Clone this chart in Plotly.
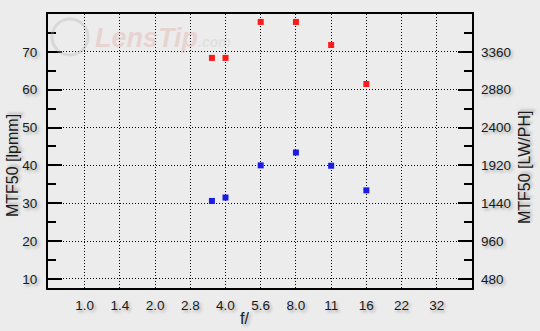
import numpy as np
import plotly.graph_objects as go

# ---- data ----
stop_labels = ["1.0", "1.4", "2.0", "2.8", "4.0", "5.6", "8.0", "11", "16", "22", "32"]
stops = [1.0, 1.4, 2.0, 2.8, 4.0, 5.6, 8.0, 11, 16, 22, 32]
apertures = [3.5, 4.0, 5.6, 8.0, 11, 16]
mtf_center = [68.4, 68.4, 77.9, 77.9, 71.8, 61.5]   # red
mtf_edge = [30.6, 31.5, 40.0, 43.4, 39.9, 33.4]     # blue
lpmm_to_lwph = 48

def stop_pos(f):
    if f in stops:
        return stops.index(f)
    return 2 * np.log2(f)

xs = [stop_pos(f) for f in apertures]
tickpos = [stop_pos(f) for f in stops]

L, R, T, B = 48, 472, 14, 288
W, H = 540, 331
FONT = "Liberation Sans, Arial, sans-serif"
SH = "2px 2px 3px #a8a8a8"
y_range = [7.6, 80.0]

fig = go.Figure()
fig.add_trace(go.Scatter(x=xs, y=mtf_center, mode="markers",
                         marker=dict(symbol="square", size=6, color="#ff1a1a", line=dict(width=0)),
                         showlegend=False))
fig.add_trace(go.Scatter(x=xs, y=mtf_edge, mode="markers",
                         marker=dict(symbol="square", size=6, color="#1c1ce6", line=dict(width=0)),
                         showlegend=False))
# invisible trace for the right axis
fig.add_trace(go.Scatter(x=[xs[0]], y=[mtf_edge[0] * lpmm_to_lwph], yaxis="y2", mode="markers",
                         marker=dict(opacity=0), showlegend=False, hoverinfo="skip"))

tickfont = dict(family=FONT, size=13.5, color="#1a1a1a", shadow=SH)

fig.update_layout(
    width=W, height=H,
    margin=dict(l=L, r=W - R, t=T, b=H - B, pad=0),
    paper_bgcolor="#ececec", plot_bgcolor="#ececec",
    xaxis=dict(range=[-1.04, 11.0], tickvals=tickpos, ticktext=stop_labels,
               showgrid=True, gridcolor="#000000", gridwidth=1, griddash="1px,2px",
               ticks="", tickfont=tickfont, ticklabelstandoff=4,
               showline=True, linecolor="#000", linewidth=2, mirror=True, zeroline=False),
    yaxis=dict(range=y_range, tickvals=[10, 20, 30, 40, 50, 60, 70],
               showgrid=True, gridcolor="#000000", gridwidth=1, griddash="1px,2px",
               ticks="inside", ticklen=14, tickcolor="#000", tickwidth=2,
               minor=dict(tickvals=[15, 25, 35, 45, 55, 65, 75], ticks="inside", ticklen=8,
                          tickcolor="#000", tickwidth=2, showgrid=False),
               tickfont=tickfont, ticklabelstandoff=6,
               showline=True, linecolor="#000", linewidth=2, mirror=True, zeroline=False),
    yaxis2=dict(range=[v * lpmm_to_lwph for v in y_range], overlaying="y", side="right",
                tickvals=[v * lpmm_to_lwph for v in [10, 20, 30, 40, 50, 60, 70]],
                showgrid=False, ticks="inside", ticklen=14, tickcolor="#000", tickwidth=2,
                minor=dict(tickvals=[v * lpmm_to_lwph for v in [15, 25, 35, 45, 55, 65, 75]],
                           ticks="inside", ticklen=8, tickcolor="#000", tickwidth=2, showgrid=False),
                tickfont=tickfont, ticklabelstandoff=8, zeroline=False, showline=False),
)

def px(x):
    return (x - L) / (R - L)

def py(y):
    return (B - y) / (B - T)

titlefont = dict(family=FONT, size=16, color="#1a1a1a", shadow=SH)
fig.add_annotation(text="MTF50 [lpmm]", x=px(12), y=py(166), xref="paper", yref="paper",
                   textangle=-90, showarrow=False, font=titlefont, xanchor="center", yanchor="middle")
fig.add_annotation(text="MTF50 [LW/PH]", x=px(525), y=py(167), xref="paper", yref="paper",
                   textangle=-90, showarrow=False, font=titlefont, xanchor="center", yanchor="middle")
fig.add_annotation(text="f/", x=px(244), y=py(318), xref="paper", yref="paper",
                   showarrow=False, font=titlefont, xanchor="center", yanchor="middle")

# faint watermark (single text)
fig.add_annotation(
    text="<i><b>LensTip</b></i><span style='font-size:14px;color:rgba(165,165,165,0.45)'><i><b>.com</b></i></span>",
    x=px(93), y=py(38), xref="paper", yref="paper",
    showarrow=False, xanchor="left", yanchor="middle",
    font=dict(family=FONT, size=27, color="rgba(225,170,165,0.38)"))
fig.add_shape(type="circle", xref="paper", yref="paper",
              x0=px(52), x1=px(88), y0=py(55), y1=py(19),
              line=dict(color="rgba(180,180,180,0.35)", width=3))

fig.write_html("out.html")
